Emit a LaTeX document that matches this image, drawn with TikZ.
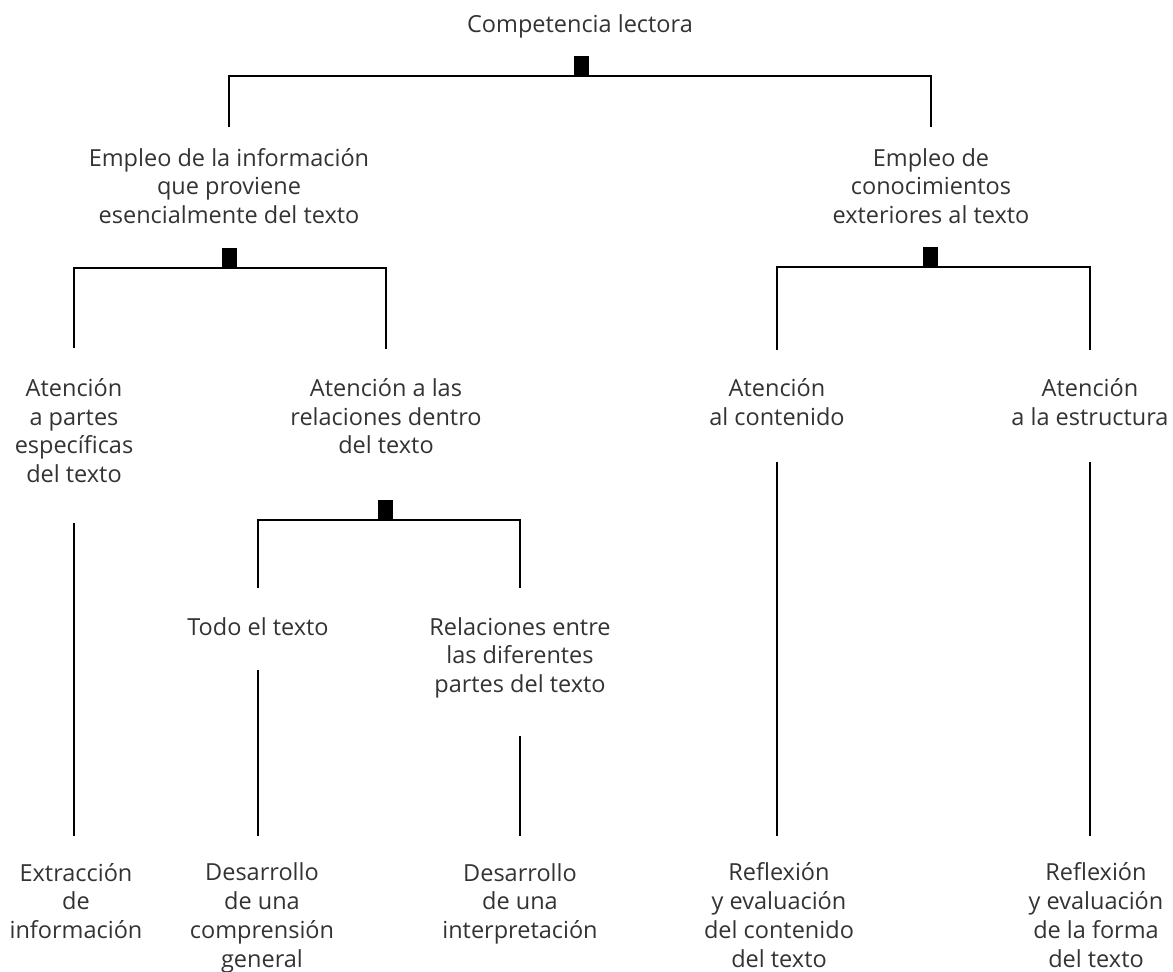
\documentclass[tikz,border=0pt]{standalone}
\usepackage{fontspec}
\setmainfont{Open Sans}
\definecolor{txt}{HTML}{333333}
\newcommand\tl[1]{\rule{0pt}{18pt}#1\rule[-6pt]{0pt}{6pt}}
\begin{document}
\begin{tikzpicture}[x=1pt,y=-1pt,
  lbl/.style={align=center, inner sep=0pt, outer sep=0pt, text=txt,
    font=\fontsize{23.5}{28.7}\selectfont},
  sq/.style={fill=black, minimum width=15pt, minimum height=20pt, inner sep=0pt, outer sep=0pt, anchor=south},
  conn/.style={draw=black, line width=2.4pt}]
\fill[white] (0,0) rectangle (1173,972);
\useasboundingbox (0,0) rectangle (1173,972);

% texts
\node[lbl] (root) at (580,26) {\tl{Competencia lectora}};
\node[lbl] (L) at (229,188.7) {\tl{Empleo de la información\\que proviene\\esencialmente del texto}};
\node[lbl] (R) at (931,188.7) {\tl{Empleo de\\conocimientos\\exteriores al texto}};
\node[lbl] (LL) at (74,433.5) {\tl{Atención\\a partes\\específicas\\del texto}};
\node[lbl] (LR) at (386,419.2) {\tl{Atención a las\\relaciones dentro\\del texto}};
\node[lbl] (RL) at (777,405.3) {\tl{Atención\\al contenido}};
\node[lbl] (RR) at (1090,405.3) {\tl{Atención\\a la estructura}};
\node[lbl] (LRL) at (258,629) {\tl{Todo el texto}};
\node[lbl] (LRR) at (520,657.7) {\tl{Relaciones entre\\las diferentes\\partes del texto}};
\node[lbl] (B1) at (76,903.7) {\tl{Extracción\\de\\información}};
\node[lbl] (B2) at (262,918) {\tl{Desarrollo\\de una\\comprensión\\general}};
\node[lbl] (B3) at (520,903.7) {\tl{Desarrollo\\de una\\interpretación}};
\node[lbl] (B4) at (779,918) {\tl{Reflexión\\y evaluación\\del contenido\\del texto}};
\node[lbl] (B5) at (1096,918) {\tl{Reflexión\\y evaluación\\de la forma\\del texto}};

% bracket squares
\node[sq] (sqTop) at (581,76) {};
\node[sq] (sqL) at (229,268) {};
\node[sq] (sqR) at (930,267) {};
\node[sq] (sqLR) at (385.5,520) {};

% brackets
\draw[conn, shorten >=21.5pt] (sqTop.south) -| (L);
\draw[conn, shorten >=21.5pt] (sqTop.south) -| (R);
\draw[conn, shorten >=30pt] (sqL.south) -| (LL);
\draw[conn, shorten >=30pt] (sqL.south) -| (LR);
\draw[conn, shorten >=29pt] (sqR.south) -| (RL);
\draw[conn, shorten >=29pt] (sqR.south) -| (RR);
\draw[conn, shorten >=29pt] (sqLR.south) -| (LRL);
\draw[conn, shorten >=29pt] (sqLR.south) -| (LRR);

% single verticals
\draw[conn, shorten <=34pt, shorten >=27pt] (LL.south) -- (LL.south |- B1.north);
\draw[conn, shorten <=29pt, shorten >=27pt] (LRL.south) -- (LRL.south |- B2.north);
\draw[conn, shorten <=38pt, shorten >=27pt] (LRR.south) -- (LRR.south |- B3.north);
\draw[conn, shorten <=30pt, shorten >=27pt] (RL.south) -- (RL.south |- B4.north);
\draw[conn, shorten <=30pt, shorten >=27pt] (RR.south) -- (RR.south |- B5.north);
\end{tikzpicture}
\end{document}
